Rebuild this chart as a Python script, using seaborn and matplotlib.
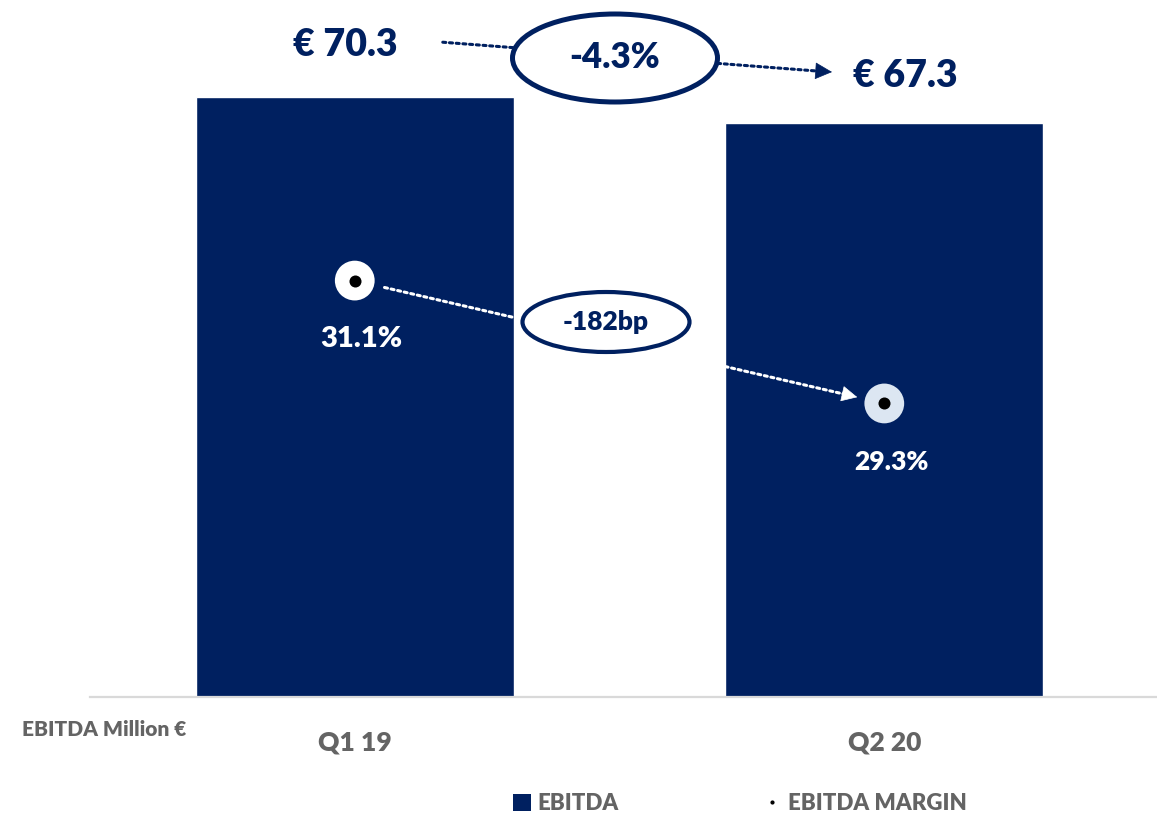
import matplotlib
matplotlib.use("Agg")
import matplotlib.pyplot as plt
import seaborn as sns
from matplotlib.patches import Ellipse, Patch, FancyArrowPatch
from matplotlib.lines import Line2D

# data
quarters = ["Q1 19", "Q2 20"]
ebitda = [70.3, 67.3]
margin = [31.1, 29.3]
ebitda_labels = ["€ 70.3", "€ 67.3"]
margin_labels = ["31.1%", "29.3%"]
ebitda_change = "-4.3%"
margin_change = "-182bp"

NAVY = "#002060"
GREY = "#646464"
W, H = 1157, 818
BOLD = "heavy"
DOTS = (0, (1, 1.2))

sns.set_theme(style="white")
plt.rcParams["font.family"] = ["Lato", "DejaVu Sans"]


def fx(x, y):
    # pixel position -> figure fraction
    return (x / W, 1 - y / H)


fig = plt.figure(figsize=(W / 100, H / 100), dpi=100)
ax = fig.add_axes([90 / W, 1 - 697 / H, 1 - 90 / W, 697 / H])

sns.barplot(x=quarters, y=ebitda, color=NAVY, saturation=1, width=0.6, ax=ax)
ax.set_xlim(-0.5, 1.515)
ax.set_ylim(0, 81.66)
ax.set_yticks([])
ax.set_ylabel("")
ax.tick_params(axis="x", length=0, pad=24, labelsize=19, labelcolor=GREY)
for lab in ax.get_xticklabels():
    lab.set_fontweight(BOLD)
for s in ["top", "left", "right"]:
    ax.spines[s].set_visible(False)
ax.spines["bottom"].set_color("#D9D9D9")
ax.spines["bottom"].set_linewidth(1.6)

# margin on secondary axis
ax2 = ax.twinx()
ax2.set_ylim(25.0, 35.21)
ax2.set_yticks([])
for s in ax2.spines.values():
    s.set_visible(False)
xs = [0, 1]
# dotted shaft, then a solid head at the end
ax2.annotate("", xy=(xs[1], margin[1]), xytext=(xs[0], margin[0]),
             arrowprops=dict(arrowstyle="-", color="white", lw=2.2, linestyle=DOTS,
                             shrinkA=22, shrinkB=30))
t = 0.94
ax2.annotate("", xy=(xs[1], margin[1]),
             xytext=(xs[0] + t * (xs[1] - xs[0]), margin[0] + t * (margin[1] - margin[0])),
             arrowprops=dict(arrowstyle="-|>", color="white", lw=0.5,
                             shrinkA=0, shrinkB=20, mutation_scale=26))
ax2.scatter(xs, margin, s=[820, 820], c=["white", "#DCE6F2"], linewidths=0, zorder=5)
ax2.scatter(xs, margin, s=75, c="black", linewidths=0, zorder=6)
for x, m, lab, fs in zip(xs, margin, margin_labels, [21, 19]):
    ax2.annotate(lab, xy=(x, m), xytext=(5, -42), textcoords="offset points",
                 ha="center", va="center", color="white", fontsize=fs, fontweight=BOLD)

# ebitda value labels
fig.text(*fx(345, 45), ebitda_labels[0], ha="center", va="center", color=NAVY,
         fontsize=27, fontweight=BOLD)
fig.text(*fx(905, 76), ebitda_labels[1], ha="center", va="center", color=NAVY,
         fontsize=27, fontweight=BOLD)

# change arrows and ellipses
fig.add_artist(FancyArrowPatch(
    fx(440, 42), fx(822, 71.4), transform=fig.transFigure, arrowstyle="-",
    color=NAVY, lw=2.2, linestyle=DOTS))
fig.add_artist(FancyArrowPatch(
    fx(812, 70.6), fx(832, 72), transform=fig.transFigure, arrowstyle="-|>",
    color=NAVY, lw=0.5, mutation_scale=28, shrinkA=0, shrinkB=0))
fig.add_artist(Ellipse(fx(615, 58), 205 / W, 88 / H, transform=fig.transFigure,
                       facecolor="white", edgecolor=NAVY, lw=3.6, zorder=3))
fig.text(*fx(615, 58), ebitda_change, ha="center", va="center", color=NAVY,
         fontsize=25, fontweight=BOLD, zorder=4)
fig.add_artist(Ellipse(fx(606, 322), 167 / W, 60 / H, transform=fig.transFigure,
                       facecolor="white", edgecolor=NAVY, lw=3, zorder=3))
fig.text(*fx(606, 322), margin_change, ha="center", va="center", color=NAVY,
         fontsize=19, fontweight=BOLD, zorder=4)

fig.text(*fx(22, 730), "EBITDA Million €", ha="left", va="center", color=GREY,
         fontsize=15, fontweight=BOLD)

handles = [Patch(facecolor=NAVY, edgecolor="none"),
           Line2D([], [], marker="o", markersize=2, color="black", linestyle="none")]
fig.legend(handles, ["EBITDA", "EBITDA MARGIN"], loc="center", bbox_to_anchor=fx(740, 804),
           ncol=2, frameon=False, handlelength=0.8, handleheight=0.8, handletextpad=0.3,
           columnspacing=6.5, prop=dict(size=16, weight=BOLD), labelcolor=GREY)

fig.savefig("out.png", dpi=100)
